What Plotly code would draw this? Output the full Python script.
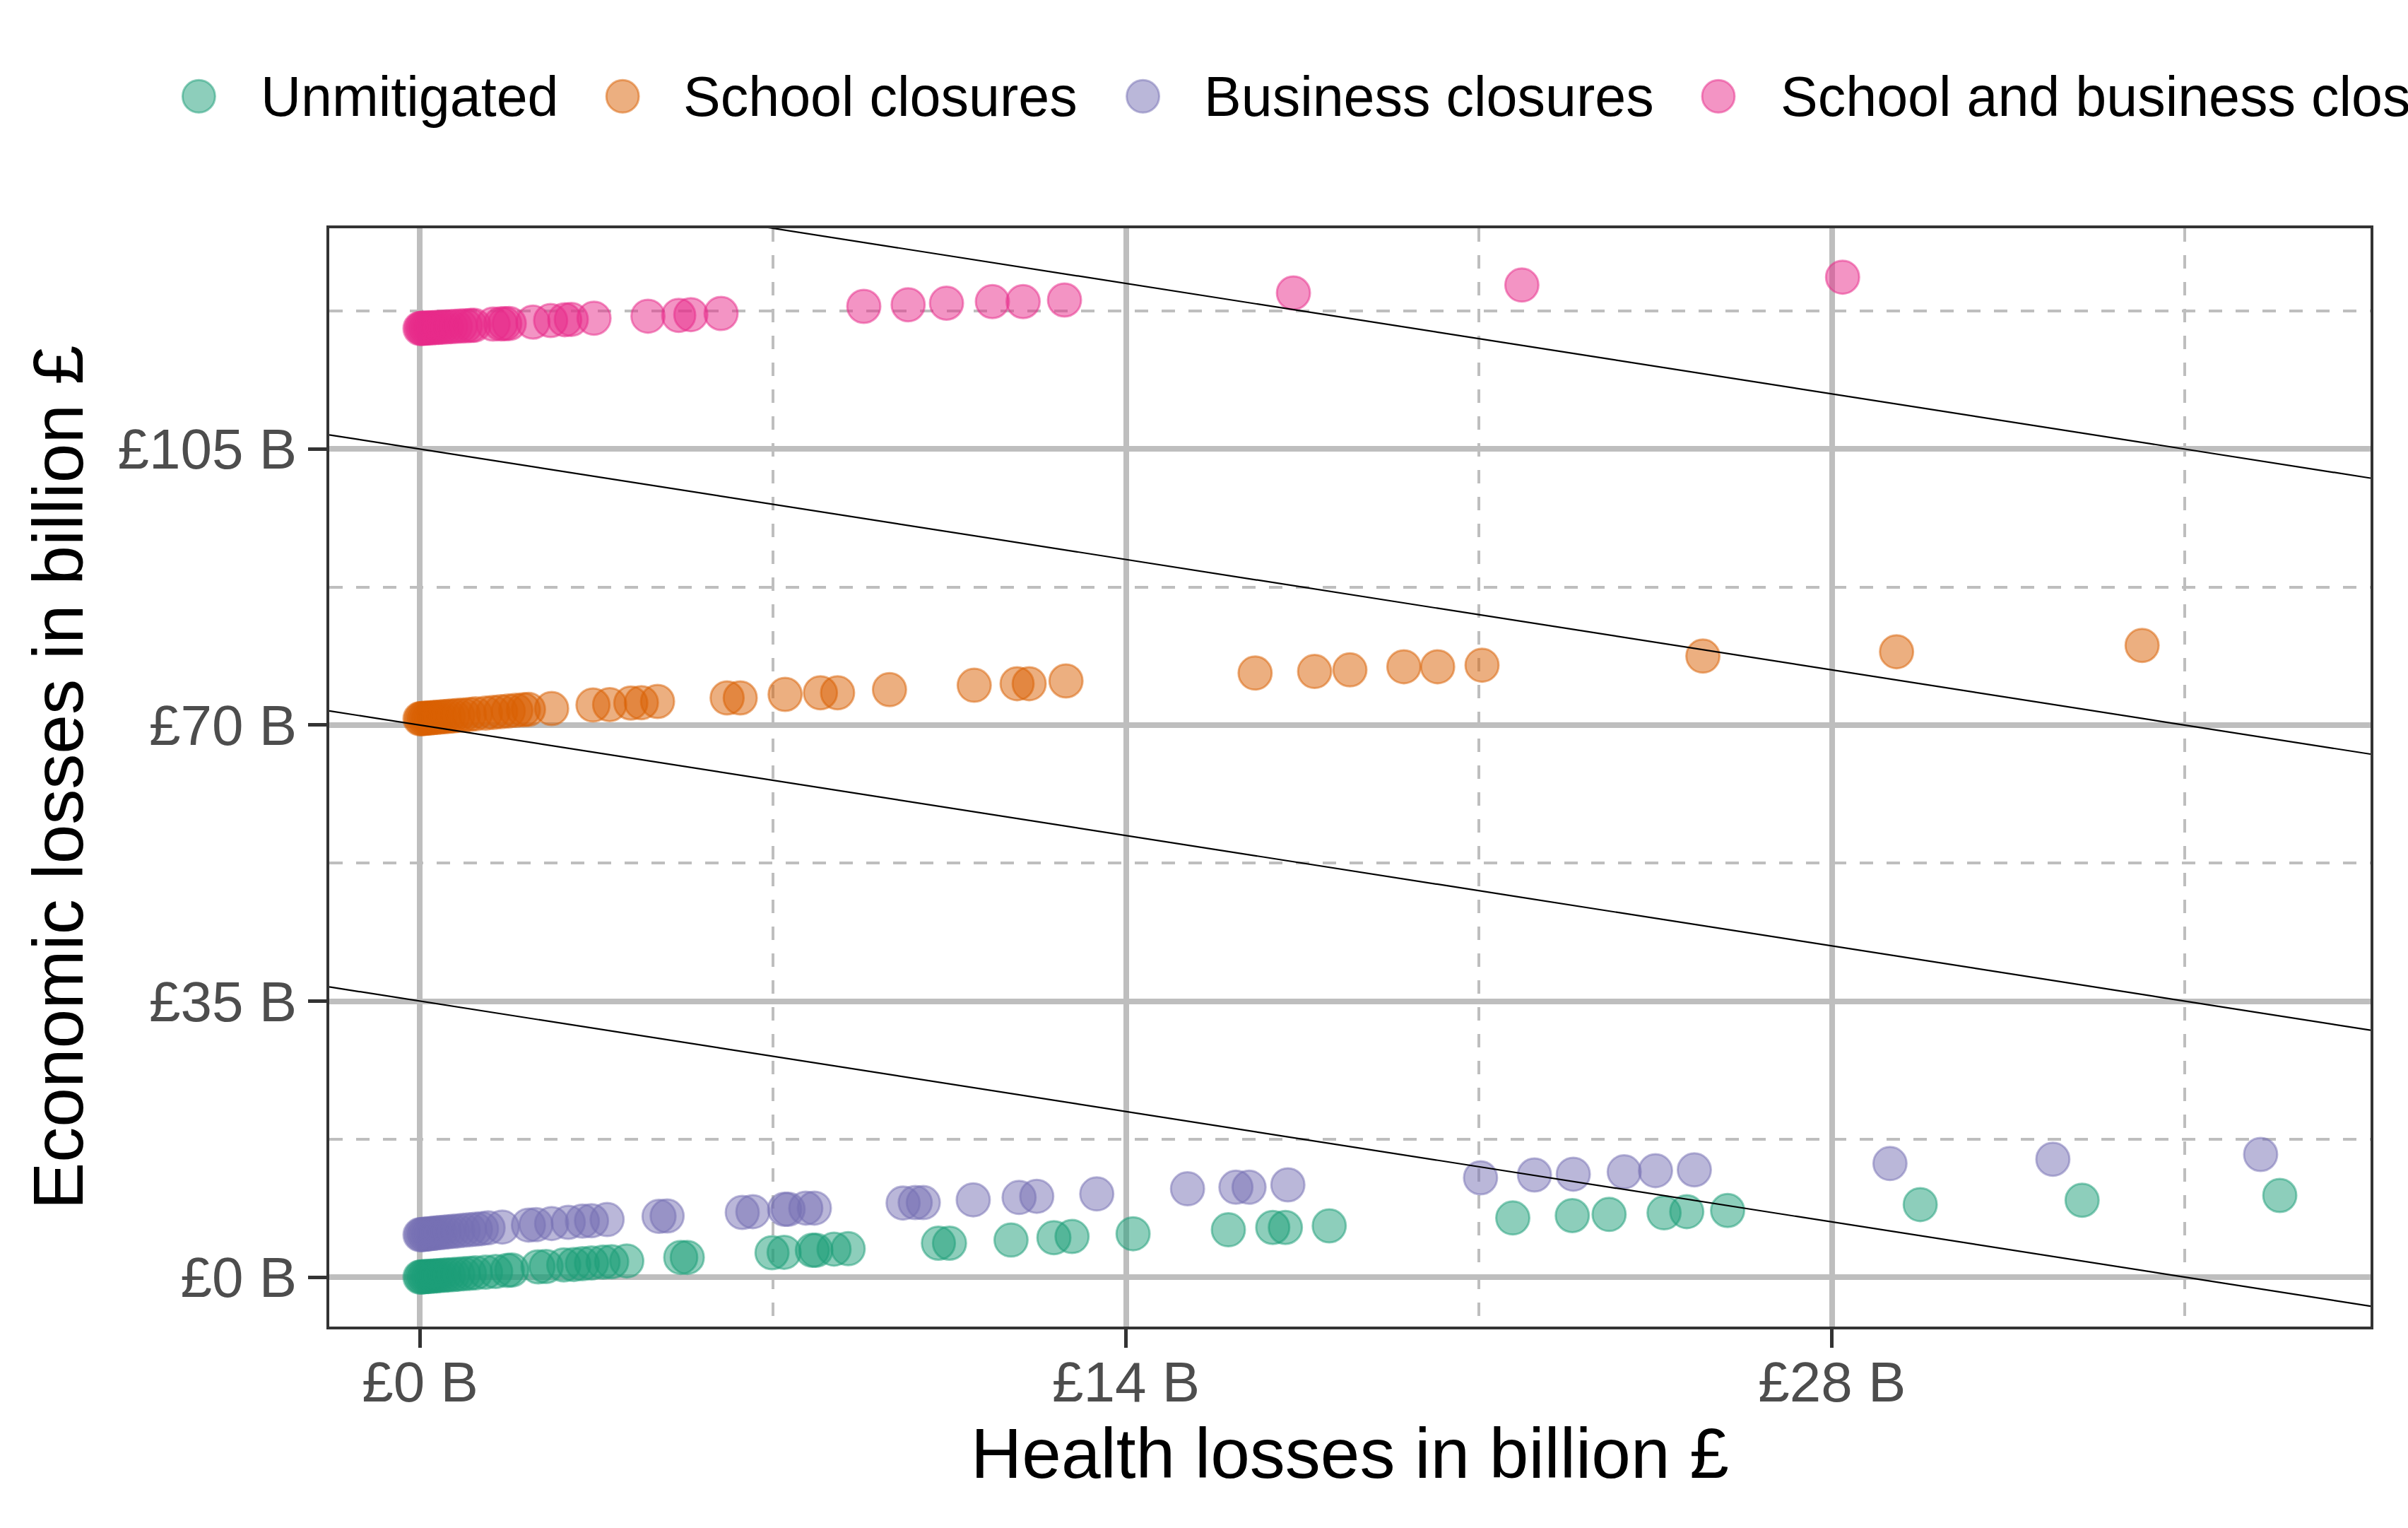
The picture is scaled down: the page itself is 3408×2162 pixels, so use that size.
import plotly.graph_objects as go

# health losses (x) and economic losses (y), billion GBP
unmitigated_x = [0.0, 0.03, 0.07, 0.11, 0.16, 0.21, 0.27, 0.33, 0.4, 0.48, 0.56, 0.65, 0.75, 0.86, 0.98,
                 1.1, 1.3, 1.5, 1.73, 1.82, 2.34, 2.5, 2.85, 3.05, 3.22, 3.4, 3.63, 3.8, 4.1, 5.17, 5.3,
                 6.98, 7.22, 7.78, 7.85, 8.21, 8.49, 10.28, 10.5, 11.72, 12.57, 12.93, 14.14, 16.03, 16.91,
                 17.16, 18.03, 21.67, 22.85, 23.58, 24.67, 25.12, 25.93, 29.75, 32.96, 36.88]
unmitigated_y = [0.0, 0.02, 0.04, 0.06, 0.08, 0.11, 0.14, 0.17, 0.2, 0.24, 0.28, 0.32, 0.37, 0.42, 0.48,
                 0.54, 0.63, 0.72, 0.85, 0.9, 1.3, 1.35, 1.55, 1.6, 1.7, 1.8, 1.9, 1.95, 2.05, 2.5, 2.5,
                 3.1, 3.15, 3.4, 3.4, 3.55, 3.6, 4.3, 4.3, 4.7, 5.0, 5.15, 5.5, 6.0, 6.3,
                 6.3, 6.5, 7.5, 7.8, 7.95, 8.15, 8.3, 8.45, 9.2, 9.75, 10.35]

school_x = [0.0, 0.03, 0.07, 0.11, 0.16, 0.21, 0.27, 0.33, 0.4, 0.48, 0.56, 0.65, 0.75, 0.86, 0.98,
            1.1, 1.3, 1.45, 1.6, 1.75, 1.9, 2.05, 2.15, 2.61, 3.43, 3.76, 4.18, 4.39, 4.71, 6.09, 6.35,
            7.24, 7.94, 8.28, 9.31, 10.99, 11.84, 12.08, 12.81, 16.56, 17.74, 18.44, 19.51, 20.18,
            21.06, 25.44, 29.28, 34.15]
school_y = [70.8, 70.82, 70.84, 70.86, 70.89, 70.92, 70.95, 70.98, 71.02, 71.07, 71.11, 71.16, 71.22,
            71.28, 71.35, 71.42, 71.52, 71.6, 71.7, 71.78, 71.87, 71.95, 72.0, 72.1, 72.55, 72.6, 72.8,
            72.85, 73.0, 73.45, 73.45, 73.9, 74.1, 74.1, 74.5, 75.05, 75.25, 75.25, 75.6, 76.6, 76.8,
            77.0, 77.4, 77.4, 77.6, 78.75, 79.3, 80.1]

business_x = [0.0, 0.03, 0.07, 0.11, 0.16, 0.21, 0.27, 0.33, 0.4, 0.48, 0.56, 0.65, 0.75, 0.86, 0.98,
              1.1, 1.22, 1.35, 1.63, 2.15, 2.3, 2.61, 2.94, 3.22, 3.4, 3.71, 4.74, 4.9, 6.39, 6.6,
              7.23, 7.3, 7.65, 7.82, 9.58, 9.82, 9.98, 10.97, 11.88, 12.23, 13.42, 15.22, 16.18, 16.44,
              17.21, 21.03, 22.1, 22.87, 23.88, 24.5, 25.27, 29.15, 32.38, 36.5]
business_y = [5.37, 5.39, 5.42, 5.45, 5.48, 5.52, 5.56, 5.6, 5.65, 5.7, 5.75, 5.8, 5.86, 5.93, 6.0,
              6.07, 6.15, 6.25, 6.35, 6.6, 6.65, 6.8, 6.95, 7.1, 7.15, 7.3, 7.7, 7.75, 8.2, 8.3,
              8.6, 8.6, 8.75, 8.75, 9.4, 9.45, 9.45, 9.8, 10.1, 10.25, 10.55, 11.2, 11.4, 11.4,
              11.7, 12.6, 12.95, 13.05, 13.35, 13.5, 13.6, 14.4, 14.95, 15.55]

both_x = [0.0, 0.03, 0.06, 0.1, 0.14, 0.19, 0.24, 0.3, 0.37, 0.44, 0.52, 0.61, 0.7, 0.8, 0.9, 1.0,
          1.07, 1.45, 1.6, 1.68, 1.77, 2.24, 2.59, 2.87, 3.0, 3.45, 4.52, 5.13, 5.37, 5.97, 8.8, 9.68,
          10.44, 11.35, 11.96, 12.78, 17.32, 21.85, 28.21]
both_y = [120.3, 120.31, 120.32, 120.34, 120.35, 120.37, 120.39, 120.41, 120.44, 120.46, 120.49,
          120.53, 120.56, 120.6, 120.63, 120.67, 120.7, 120.85, 120.88, 120.9, 120.92, 121.1, 121.3,
          121.4, 121.45, 121.6, 121.85, 121.95, 122.05, 122.2, 123.1, 123.3, 123.5, 123.7, 123.7,
          123.9, 124.8, 125.8, 126.8]

series_names = ['Unmitigated', 'School closures', 'Business closures', 'School and business closures']
series_x = [unmitigated_x, school_x, business_x, both_x]
series_y = [unmitigated_y, school_y, business_y, both_y]
colors = ['27,158,119', '217,95,2', '117,112,179', '231,41,138']

# total-loss contour lines: health + economic = level
iso_levels = [35, 70, 105, 140]

x_ticks = [0, 14, 28]
x_ticktext = ['£0 B', '£14 B', '£28 B']
y_ticks = [0, 35, 70, 105]
y_ticktext = ['£0 B', '£35 B', '£70 B', '£105 B']

x_range = [-1.8, 38.68]
y_range = [-6.27, 133.0]

FONT = 'Liberation Sans, Arial, sans-serif'

fig = go.Figure()

for i in range(4):
    fig.add_trace(go.Scatter(
        x=series_x[i],
        y=series_y[i],
        mode='markers',
        name=series_names[i],
        marker=dict(size=47, color=f'rgba({colors[i]},0.5)',
                    line=dict(width=3, color=f'rgba({colors[i]},0.5)')),
        showlegend=False
    ))

for level in iso_levels:
    fig.add_trace(go.Scatter(
        x=x_range,
        y=[level - v for v in x_range],
        mode='lines',
        line=dict(color='black', width=2.2),
        hoverinfo='skip',
        showlegend=False
    ))

# legend drawn by hand so it runs off the right edge in one row like the original
legend_marker_x = [-0.0639, 0.1437, 0.3986, 0.6805]
legend_text_x = [-0.0341, 0.1727, 0.4277, 0.7103]
legend_y = 1.1202
for i in range(4):
    fig.add_shape(type='circle', xref='paper', yref='paper',
                  xsizemode='pixel', ysizemode='pixel',
                  xanchor=legend_marker_x[i], yanchor=legend_y,
                  x0=-23, x1=23, y0=-23, y1=23,
                  fillcolor=f'rgba({colors[i]},0.5)',
                  line=dict(color=f'rgba({colors[i]},0.5)', width=3))
    fig.add_annotation(x=legend_text_x[i], y=legend_y, xref='paper', yref='paper',
                       text=series_names[i], showarrow=False,
                       xanchor='left', yanchor='middle',
                       font=dict(family=FONT, size=79, color='black'))

axis_common = dict(
    showline=True, mirror=True, linecolor='#333333', linewidth=4,
    ticks='outside', ticklen=26, tickwidth=5, tickcolor='#333333',
    tickfont=dict(family=FONT, size=80, color='#4D4D4D'),
    showgrid=True, gridcolor='#BEBEBE', gridwidth=8,
    zeroline=False,
)

fig.update_xaxes(
    range=x_range, tickvals=x_ticks, ticktext=x_ticktext,
    ticklabelstandoff=-20,
    minor=dict(dtick=7, tick0=0, showgrid=True, gridcolor='#BEBEBE', gridwidth=4,
               griddash='19px,19px', ticks=''),
    title=dict(text='Health losses in billion £', font=dict(family=FONT, size=100, color='black'),
               standoff=20),
    **axis_common
)
fig.update_yaxes(
    range=y_range, tickvals=y_ticks, ticktext=y_ticktext,
    ticklabelstandoff=0,
    minor=dict(dtick=17.5, tick0=0, showgrid=True, gridcolor='#BEBEBE', gridwidth=4,
               griddash='19px,19px', ticks=''),
    title=dict(text='Economic losses in billion £', font=dict(family=FONT, size=100, color='black'),
               standoff=16),
    **axis_common
)

fig.update_layout(
    width=3408, height=2162,
    margin=dict(l=466, r=53, t=323, b=285),
    plot_bgcolor='white', paper_bgcolor='white',
    font=dict(family=FONT),
    showlegend=False
)

fig.write_html("out.html", config={'displayModeBar': False},
               post_script="document.body.style.margin='0px';")
